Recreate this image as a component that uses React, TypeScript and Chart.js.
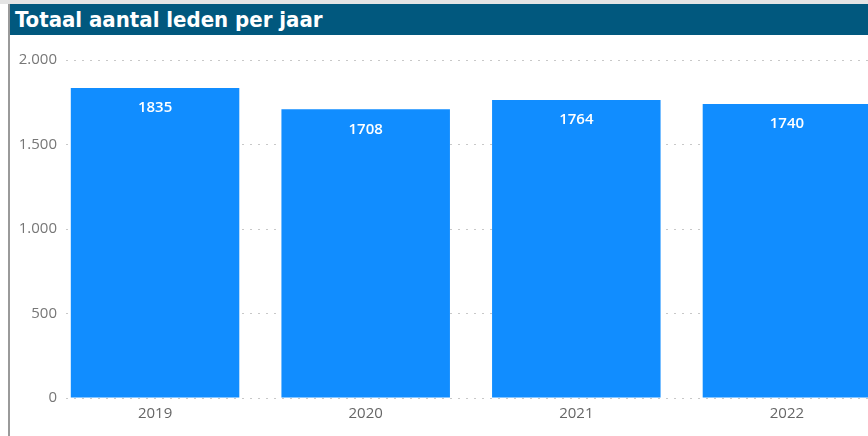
import React, { useEffect, useRef } from "react";
import { Chart, registerables } from "chart.js";

Chart.register(...registerables);

const title = "Totaal aantal leden per jaar";
const years = [2019, 2020, 2021, 2022];
const members = [1835, 1708, 1764, 1740];
const yTicks = [0, 500, 1000, 1500, 2000];

const fmt = (v: number) => String(v).replace(/\B(?=(\d{3})+(?!\d))/g, ".");

const barLabels = {
  id: "barLabels",
  afterDatasetsDraw(chart: any) {
    const ctx = chart.ctx;
    const meta = chart.getDatasetMeta(0);
    ctx.save();
    ctx.fillStyle = "#ffffff";
    ctx.font = "600 15px 'Open Sans', sans-serif";
    ctx.textAlign = "center";
    ctx.textBaseline = "middle";
    meta.data.forEach((el: any, i: number) => {
      ctx.fillText(String(members[i]), el.x, el.y + 20);
    });
    ctx.restore();
  },
};

export default function App() {
  const ref = useRef<HTMLCanvasElement>(null);
  useEffect(() => {
    if (!ref.current) return;
    const pad = 0.4228;
    const chart = new Chart(ref.current, {
      type: "bar",
      data: {
        datasets: [
          {
            data: years.map((y, i) => ({ x: y, y: members[i] })),
            backgroundColor: "#118DFF",
            barPercentage: 0.8,
            categoryPercentage: 1,
          },
        ],
      },
      options: {
        animation: false,
        responsive: false,
        devicePixelRatio: 1,
        layout: { padding: { top: 24, bottom: 8, left: 0, right: 0 } },
        plugins: { legend: { display: false }, tooltip: { enabled: false } },
        scales: {
          x: {
            type: "linear",
            offset: false,
            min: years[0] - pad,
            max: years[years.length - 1] + pad,
            afterBuildTicks: (s: any) => {
              s.ticks = years.map((v) => ({ value: v }));
            },
            afterFit: (s: any) => {
              s.height = 30;
            },
            grid: { display: false, drawTicks: false, offset: false },
            border: { display: false },
            ticks: {
              callback: (v: any) => String(v),
              color: "#666666",
              font: { family: "'Open Sans', sans-serif", size: 15 },
              padding: 7,
              maxRotation: 0,
              autoSkip: false,
            },
          },
          y: {
            min: 0,
            max: 2000,
            afterBuildTicks: (s: any) => {
              s.ticks = yTicks.map((v) => ({ value: v }));
            },
            afterFit: (s: any) => {
              s.width = 66;
            },
            grid: { color: "#c8c8c8", drawTicks: false, lineWidth: 1 },
            border: { display: false, dash: [2, 6] },
            ticks: {
              callback: (v: any) => fmt(Number(v)),
              color: "#777777",
              font: { family: "'Open Sans', sans-serif", size: 15 },
              padding: 9,
            },
          },
        },
      },
      plugins: [barLabels],
    });
    return () => chart.destroy();
  }, []);

  return (
    <div
      style={{
        position: "fixed",
        left: 0,
        top: 0,
        width: 868,
        height: 436,
        overflow: "hidden",
        background: "#ffffff",
      }}
    >
      <div style={{ position: "absolute", left: 0, top: 0, width: 868, height: 4, background: "#e4e4e4" }} />
      <div style={{ position: "absolute", left: 8, top: 4, width: 2, height: 432, background: "#9a9a9a" }} />
      <div
        style={{
          position: "absolute",
          left: 10,
          top: 4,
          width: 858,
          height: 31,
          background: "#01587e",
          color: "#ffffff",
          fontFamily: "'DejaVu Sans Condensed', 'DejaVu Sans', sans-serif",
          fontWeight: "bold",
          fontSize: 22,
          lineHeight: "31px",
          paddingLeft: 5,
          boxSizing: "border-box",
          whiteSpace: "nowrap",
        }}
      >
        {title}
      </div>
      <div style={{ position: "absolute", left: 0, top: 36, width: 876, height: 400 }}>
        <canvas ref={ref} width={876} height={400} style={{ width: 876, height: 400 }} />
      </div>
    </div>
  );
}
